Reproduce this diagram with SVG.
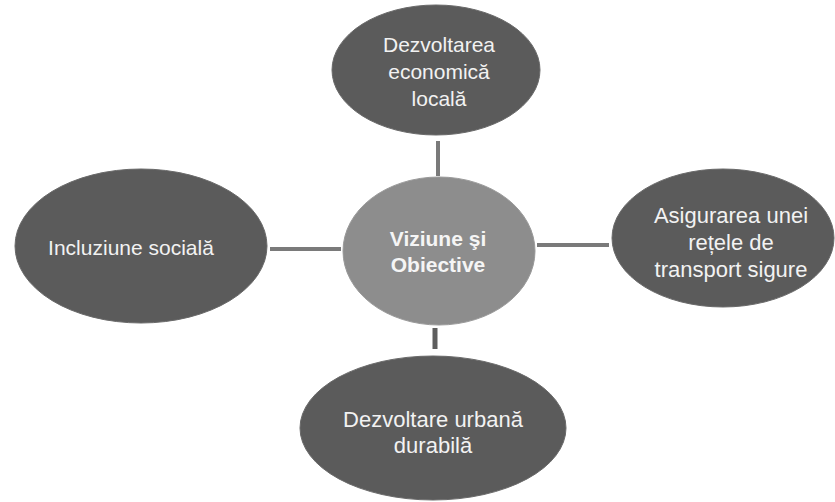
<svg xmlns="http://www.w3.org/2000/svg" width="835" height="502" viewBox="0 0 835 502">
<style>
.outer{fill:#5b5b5b;stroke:#6a6a6a;stroke-width:1}
.center{fill:#8d8d8d;stroke:#9a9a9a;stroke-width:1}
.t{font-family:"Liberation Sans",Arial,sans-serif;font-size:21px;fill:#f2f2f2;text-anchor:middle}
.tb{font-family:"Liberation Sans",Arial,sans-serif;font-size:21px;font-weight:bold;fill:#f5f5f5;text-anchor:middle}
.c{stroke:#7a7a7a;stroke-width:4;fill:none}
</style>
<rect width="835" height="502" fill="#ffffff"/>
<g id="connectors">
<line class="c" x1="438" y1="141" x2="438" y2="176"/>
<line class="c" x1="270" y1="249" x2="341" y2="249"/>
<line class="c" x1="537" y1="245" x2="609" y2="245"/>
<line class="c" x1="435" y1="328" x2="435" y2="349" style="stroke:#5e5e5e;stroke-width:5"/>
</g>
<g id="node-top">
<ellipse class="outer" cx="436" cy="70" rx="104" ry="65"/>
<text class="t" x="439" y="52">Dezvoltarea</text>
<text class="t" x="439" y="79">economică</text>
<text class="t" x="439" y="106">locală</text>
</g>
<g id="node-center">
<ellipse class="center" cx="439" cy="251" rx="96" ry="74"/>
<text class="tb" x="438" y="246">Viziune şi</text>
<text class="tb" x="438" y="272">Obiective</text>
</g>
<g id="node-left">
<ellipse class="outer" cx="141" cy="246" rx="126" ry="77"/>
<text class="t" x="131" y="255">Incluziune socială</text>
</g>
<g id="node-right">
<ellipse class="outer" cx="723" cy="238" rx="111" ry="69"/>
<text class="t" x="731" y="223" style="font-size:22px">Asigurarea unei</text>
<text class="t" x="731" y="250" style="font-size:22px">rețele de</text>
<text class="t" x="731" y="277" style="font-size:22px">transport sigure</text>
</g>
<g id="node-bottom">
<ellipse class="outer" cx="433" cy="428" rx="133" ry="72"/>
<text class="t" x="433" y="427" style="font-size:22px">Dezvoltare urbană</text>
<text class="t" x="433" y="453" style="font-size:22px">durabilă</text>
</g>
</svg>
